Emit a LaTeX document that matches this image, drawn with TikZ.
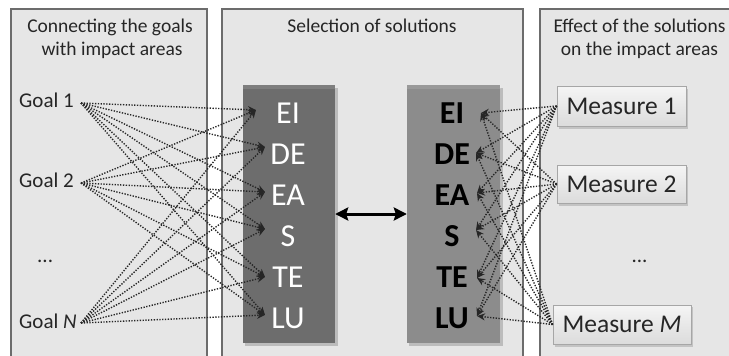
\documentclass[tikz,border=0pt]{standalone}
\usepackage{fontspec}
\setmainfont{Carlito}
\usetikzlibrary{arrows.meta}

\definecolor{panelfill}{HTML}{E6E6E6}
\definecolor{panelline}{HTML}{6C6C6C}
\definecolor{darkbar}{HTML}{6D6D6D}
\definecolor{lightbar}{HTML}{8C8C8C}
\definecolor{linkgray}{HTML}{262626}

\tikzset{
  panel/.style={fill=panelfill, draw=panelline, line width=1.4pt},
  title/.style={font=\fontsize{19.5}{23}\selectfont, text=black!85, inner sep=0pt, anchor=base},
  bar/.style={draw=none, minimum width=92pt, minimum height=258pt, inner sep=0pt},
  barshadow/.style={fill=black, opacity=0.18},
  area/.style={font=\fontsize{32}{32}\selectfont, inner sep=0pt, anchor=base},
  goal/.style={font=\fontsize{21}{22}\selectfont, text=black!85, inner sep=0pt, anchor=base west},
  measure/.style={draw=black!35, line width=0.8pt, top color=white!96!black, bottom color=black!14,
                  font=\fontsize{25.5}{26}\selectfont, text=black!85, inner sep=0pt},
  conn/.style={draw=linkgray, line width=1.4pt, dash pattern=on 1.3pt off 1.5pt,
               -{Stealth[length=8pt,width=7pt]}},
  dbl/.style={line width=3pt, {Stealth[length=13pt,width=13pt,inset=2pt]}-{Stealth[length=13pt,width=13pt,inset=2pt]}},
}

\begin{document}
\begin{tikzpicture}[x=1pt, y=-1pt]
  \useasboundingbox (0,0) rectangle (729,356);
  \clip (0,0) rectangle (729,356);

  % three panels, running off the bottom edge
  \path[panel] (11,9) rectangle (207,372);
  \path[panel] (222,9) rectangle (523,372);
  \path[panel] (540,9) rectangle (740,372);

  % panel titles
  \node[title] (t1a) at (110,32) {Connecting the goals};
  \node[title] (t1b) at (112,55) {with impact areas};
  \node[title] (t2)  at (372,32) {Selection of solutions};
  \node[title] (t3a) at (639.5,32) {Effect of the solutions};
  \node[title] (t3b) at (639.5,55) {on the impact areas};

  % the two columns of impact areas
  \fill[barshadow] (245,88) rectangle (338,346);
  \fill[barshadow] (409,88) rectangle (503,346);
  \node[bar, fill=darkbar, minimum width=92pt] (lbar) at (289,214) {};
  \node[bar, fill=lightbar, minimum width=93pt] (rbar) at (453.5,214) {};
  \fill[white, opacity=0.12] (243,85) rectangle (335,89);
  \fill[white, opacity=0.12] (407,85) rectangle (500.5,89);

  % goals
  \node[goal] (g1) at (19,107) {Goal 1};
  \node[goal] (g2) at (19,187) {Goal 2};
  \node[goal] (gd) at (37,262) {...};
  \node[goal] (gn) at (19,328) {Goal \textit{N}};
  \coordinate (g1p) at (81,103);
  \coordinate (g2p) at (81,183);
  \coordinate (gnp) at (81,323);

  % measures
  \fill[black, opacity=0.15] (559,89) rectangle (688,129);
  \fill[black, opacity=0.15] (559,167) rectangle (688,206);
  \fill[black, opacity=0.15] (555,307) rectangle (693,347);
  \node[measure, minimum width=129pt, minimum height=40pt] (m1) at (621.5,106) {Measure 1};
  \node[measure, minimum width=129pt, minimum height=38pt] (m2) at (621.5,184) {Measure 2};
  \node[measure, minimum width=138pt, minimum height=39pt] (mm) at (622,324.5) {Measure \textit{M}};
  \node[goal, anchor=base] (md) at (639.5,262) {...};

  % arrow end points beside the impact-area labels
  \coordinate (lt1) at (256,110);
  \coordinate (lt2) at (265,147);
  \coordinate (lt3) at (265,192);
  \coordinate (lt4) at (265,229);
  \coordinate (lt5) at (265,277);
  \coordinate (lt6) at (265,315);
  \coordinate (rt1) at (481,113);
  \coordinate (rt2) at (476,153);
  \coordinate (rt3) at (477,193);
  \coordinate (rt4) at (476,230);
  \coordinate (rt5) at (477,278);
  \coordinate (rt6) at (477,316);

  % goal -> impact area links
  \foreach \g in {g1p,g2p,gnp}
    \foreach \t in {1,...,6}
      \draw[conn] (\g) -- (lt\t);

  % measure -> impact area links
  \foreach \m in {m1,m2,mm}
    \foreach \t in {1,...,6}
      \draw[conn] (\m.west) -- (rt\t);

  % impact area labels
  \foreach \lab [count=\i] in {EI,DE,EA,S,TE,LU} {
    \node[area, text=white] (la\i) at (288,{123+41*(\i-1)}) {\lab};
    \node[area, text=black, font=\fontsize{32}{32}\selectfont\bfseries] (ra\i) at (452,{123+41*(\i-1)}) {\lab};
  }

  % link between the two columns
  \draw[dbl] (lbar.east) -- (rbar.west);
\end{tikzpicture}
\end{document}
